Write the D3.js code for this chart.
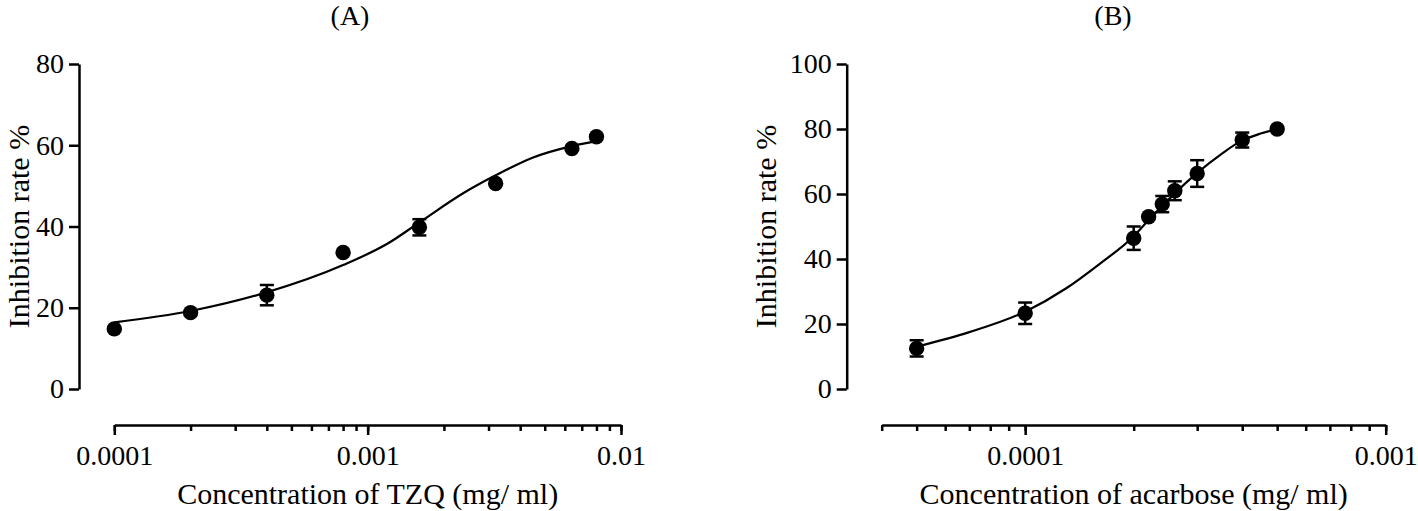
<!DOCTYPE html>
<html>
<head>
<meta charset="utf-8">
<script src="https://cdn.jsdelivr.net/npm/d3@7"></script>
<style>
  html, body { margin: 0; padding: 0; background: #fff; }
  svg { display: block; }
  svg text { font-family: "Liberation Serif", "Tinos", "DejaVu Serif", serif !important; fill: #000; }
</style>
</head>
<body>
<svg id="chart" width="1418" height="511" font-family="Liberation Serif, serif"></svg>
<script>
// ---------- Data ----------
// Panel A: TZQ
const concA = [0.0001, 0.0002, 0.0004, 0.0008, 0.0016, 0.0032, 0.0064, 0.008];
const rateA = [14.8, 18.8, 23.1, 33.6, 39.8, 50.6, 59.2, 62.1];
const errA  = [0, 0, 2.5, 0, 2.0, 0, 0, 0];
// fitted curve A
const fitConcA = [0.0001, 0.0002, 0.0004, 0.0008, 0.0012, 0.0016, 0.0024, 0.0032, 0.0045, 0.0064, 0.008];
const fitRateA = [16.4, 19.2, 23.8, 30.5, 35.8, 41.0, 48.3, 52.6, 57.0, 59.8, 61.0];

// Panel B: acarbose
const concB = [0.00005, 0.0001, 0.0002, 0.00022, 0.00024, 0.00026, 0.0003, 0.0004, 0.0005];
const rateB = [12.5, 23.3, 46.4, 53.0, 56.9, 61.0, 66.3, 76.6, 80.0];
const errB  = [2.5, 3.3, 3.6, 0, 2.5, 2.9, 4.1, 2.3, 0];
// fitted curve B
const fitConcB = [0.00005, 0.00007, 0.0001, 0.00013, 0.00016, 0.0002, 0.00022, 0.00024, 0.00026, 0.0003, 0.00035, 0.0004, 0.00045, 0.0005];
const fitRateB = [13.0, 17.5, 23.8, 31.0, 38.3, 47.0, 52.0, 56.3, 60.2, 66.5, 72.3, 76.5, 78.6, 80.0];

// Axis ticks
const yTicksA = [0, 20, 40, 60, 80];
const yTicksB = [0, 20, 40, 60, 80, 100];
const xMajorA = [0.0001, 0.001, 0.01];
const xMajorB = [0.0001, 0.001];
const xMajorLabelsA = ["0.0001", "0.001", "0.01"];
const xMajorLabelsB = ["0.0001", "0.001"];

const titles = ["(A)", "(B)"];
const xTitles = ["Concentration of TZQ (mg/ ml)", "Concentration of acarbose (mg/ ml)"];
const yTitle = "Inhibition rate %";

// ---------- Drawing ----------
const svg = d3.select("#chart");
const FS = 28;      // tick labels and panel titles
const FS_AX = 30;   // axis titles
const FONT = '"Liberation Serif", "Tinos", "DejaVu Serif", serif';

function minorTicks(lo, hi) {
  const out = [];
  for (let e = Math.floor(Math.log10(lo)) ; e <= Math.ceil(Math.log10(hi)); e++) {
    for (let m = 1; m <= 9; m++) {
      const v = m * Math.pow(10, e);
      if (v >= lo * 0.9999 && v <= hi * 1.0001) out.push(+v.toPrecision(6));
    }
  }
  return out;
}

function styleText(sel, size) {
  sel.style("font-family", FONT).style("font-size", (size || FS) + "px").attr("fill", "#000");
}

function panel(cfg) {
  const g = svg.append("g");
  const x = d3.scaleLog().domain(cfg.xDomain).range(cfg.xRange);
  const y = d3.scaleLinear().domain(cfg.yDomain).range([389, 64]);

  // y axis
  const yAxis = d3.axisLeft(y).tickValues(cfg.yTicks).tickSize(10).tickPadding(5)
    .tickFormat(d3.format("d")).tickSizeOuter(0);
  const gy = g.append("g").attr("transform", `translate(${cfg.xRange[0] - cfg.yGap},0)`).call(yAxis);
  gy.attr("font-family", null).attr("font-size", null);
  gy.select(".domain").attr("stroke-width", 2.5).attr("stroke", "#000");
  gy.selectAll(".tick line").attr("stroke-width", 2.5).attr("stroke", "#000");
  styleText(gy.selectAll("text"));

  // x axis: minor ticks
  const xAxisMinor = d3.axisBottom(x).tickValues(minorTicks(cfg.xDomain[0], cfg.xDomain[1]))
    .tickSize(6).tickFormat("").tickSizeOuter(0);
  const gxm = g.append("g").attr("transform", "translate(0,425)").call(xAxisMinor);
  gxm.select(".domain").attr("stroke-width", 2.5).attr("stroke", "#000");
  gxm.selectAll(".tick line").attr("stroke-width", 2.5).attr("stroke", "#000");

  // x axis: major ticks with labels
  const xAxisMajor = d3.axisBottom(x).tickValues(cfg.xMajor).tickSize(10).tickPadding(10)
    .tickFormat((d, i) => cfg.xMajorLabels[i]).tickSizeOuter(0);
  const gx = g.append("g").attr("transform", "translate(0,425)").call(xAxisMajor);
  gx.attr("font-family", null).attr("font-size", null);
  gx.select(".domain").remove();
  gx.selectAll(".tick line").attr("stroke-width", 2.5).attr("stroke", "#000");
  styleText(gx.selectAll("text"));

  // fitted curve
  const line = d3.line().x(d => x(d[0])).y(d => y(d[1])).curve(d3.curveMonotoneX);
  g.append("path")
    .datum(cfg.fitConc.map((c, i) => [c, cfg.fitRate[i]]))
    .attr("d", line).attr("fill", "none").attr("stroke", "#000").attr("stroke-width", 2.2);

  // error bars
  const pts = cfg.conc.map((c, i) => ({ c, r: cfg.rate[i], e: cfg.err[i] }));
  const eb = g.append("g").selectAll("g").data(pts.filter(p => p.e > 0)).join("g");
  eb.append("line").attr("x1", d => x(d.c)).attr("x2", d => x(d.c))
    .attr("y1", d => y(d.r + d.e)).attr("y2", d => y(d.r - d.e))
    .attr("stroke", "#000").attr("stroke-width", 2.5);
  [1, -1].forEach(s => {
    eb.append("line").attr("x1", d => x(d.c) - 7).attr("x2", d => x(d.c) + 7)
      .attr("y1", d => y(d.r + s * d.e)).attr("y2", d => y(d.r + s * d.e))
      .attr("stroke", "#000").attr("stroke-width", 2.5);
  });

  // points
  g.append("g").selectAll("circle").data(pts).join("circle")
    .attr("cx", d => x(d.c)).attr("cy", d => y(d.r)).attr("r", 7.7).attr("fill", "#000");

  // titles
  styleText(g.append("text").attr("x", cfg.titleX).attr("y", 25).attr("text-anchor", "middle").text(cfg.title));
  styleText(g.append("text").attr("x", (cfg.xRange[0] + cfg.xRange[1]) / 2).attr("y", 504)
    .attr("text-anchor", "middle").text(cfg.xTitle), FS_AX);
  styleText(g.append("text").attr("transform", `translate(${cfg.yLabelX},226.5) rotate(-90)`)
    .attr("text-anchor", "middle").text(yTitle), FS_AX);
}

panel({
  xDomain: [0.0001, 0.01], xRange: [114.3, 621],
  yDomain: [0, 80], yTicks: yTicksA, yGap: 35.3,
  xMajor: xMajorA, xMajorLabels: xMajorLabelsA,
  conc: concA, rate: rateA, err: errA, fitConc: fitConcA, fitRate: fitRateA,
  title: titles[0], titleX: 350, xTitle: xTitles[0], yLabelX: 29
});

panel({
  xDomain: [0.00004, 0.001], xRange: [881.7, 1385.7],
  yDomain: [0, 100], yTicks: yTicksB, yGap: 35,
  xMajor: xMajorB, xMajorLabels: xMajorLabelsB,
  conc: concB, rate: rateB, err: errB, fitConc: fitConcB, fitRate: fitRateB,
  title: titles[1], titleX: 1113, xTitle: xTitles[1], yLabelX: 776
});
</script>
</body>
</html>
